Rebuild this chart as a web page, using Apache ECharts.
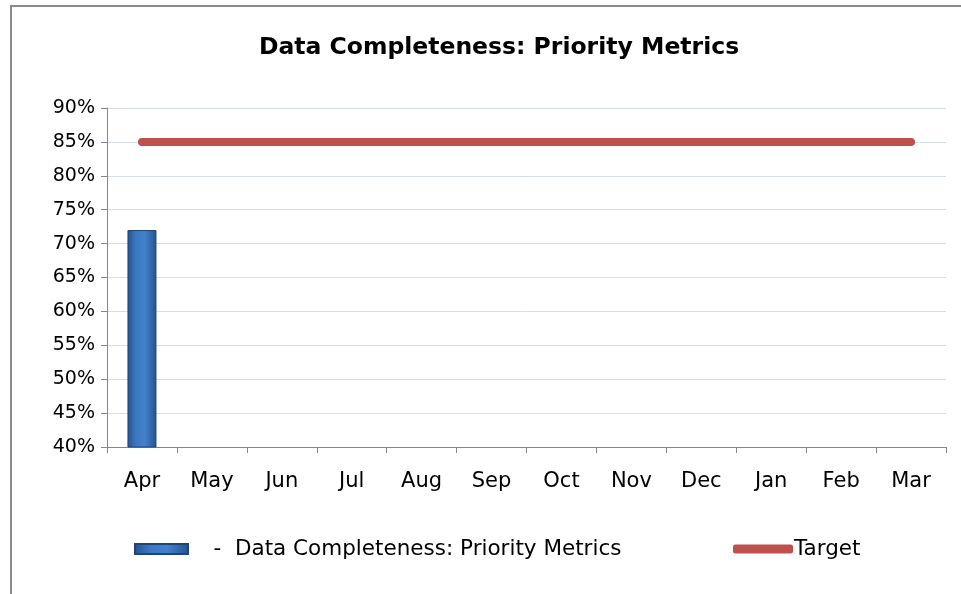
<!doctype html>
<html>
<head>
<meta charset="UTF-8">
<title>Data Completeness</title>
<script src="https://cdn.jsdelivr.net/npm/echarts@6/dist/echarts.min.js"></script>
<style>
  html, body { margin: 0; padding: 0; background: #fff; }
  #main { width: 961px; height: 594px; }
</style>
</head>
<body>
<div id="main"></div>
<script>
    var months = ['Apr', 'May', 'Jun', 'Jul', 'Aug', 'Sep', 'Oct', 'Nov', 'Dec', 'Jan', 'Feb', 'Mar'];
    var completeness = [72, null, null, null, null, null, null, null, null, null, null, null];
    var target = [85, 85, 85, 85, 85, 85, 85, 85, 85, 85, 85, 85];

    var font = 'DejaVu Sans';
    var myChart = echarts.init(document.getElementById('main'));
    var option = {
        animation: false,
        backgroundColor: '#fff',
        title: {
            text: 'Data Completeness: Priority Metrics',
            left: 494,
            top: 31,
            textAlign: 'center',
            textStyle: { fontFamily: font, fontSize: 23.5, fontWeight: 'bold', color: '#000' }
        },
        graphic: [{
            type: 'polyline',
            shape: { points: [[11, 594], [11, 6], [961, 6]] },
            style: { stroke: '#8a8a8a', lineWidth: 2, fill: null }
        }],
        legend: [{
            left: 134,
            top: 538,
            padding: 0,
            itemWidth: 53,
            itemHeight: 10,
            data: [{ name: 'Data Completeness: Priority Metrics', icon: 'rect' }],
            formatter: function (n) { return '   -  ' + n; },
            textStyle: { fontFamily: font, fontSize: 21.5, color: '#000' }
        }, {
            left: 733,
            top: 538,
            padding: 0,
            itemWidth: 60,
            itemHeight: 9,
            data: [{ name: 'Target', icon: 'roundRect' }],
            textStyle: { fontFamily: font, fontSize: 21.5, color: '#000', padding: [0, 0, 0, -4] }
        }],
        grid: { left: 107, right: 15, top: 108, bottom: 147 },
        xAxis: {
            type: 'category',
            data: months,
            boundaryGap: true,
            axisLine: { lineStyle: { color: '#868686', width: 1 } },
            axisTick: { show: true, length: 6, lineStyle: { color: '#868686' } },
            axisLabel: { fontFamily: font, fontSize: 21, color: '#000', margin: 24 }
        },
        yAxis: {
            type: 'value',
            min: 40,
            max: 90,
            interval: 5,
            axisLine: { show: true, lineStyle: { color: '#868686' } },
            axisTick: { show: true, length: 6, lineStyle: { color: '#868686' } },
            splitLine: { lineStyle: { color: '#d3dff0', width: 1 } },
            axisLabel: { fontFamily: font, fontSize: 19, color: '#000', margin: 12, formatter: '{value}%' }
        },
        series: [{
            name: 'Data Completeness: Priority Metrics',
            type: 'bar',
            barWidth: 29,
            data: completeness,
            itemStyle: {
                color: new echarts.graphic.LinearGradient(0, 0, 1, 0, [
                    { offset: 0, color: '#24528e' },
                    { offset: 0.3, color: '#3d78c2' },
                    { offset: 0.6, color: '#4282cc' },
                    { offset: 1, color: '#24528e' }
                ]),
                borderColor: '#1d4678',
                borderWidth: 1
            }
        }, {
            name: 'Target',
            type: 'line',
            data: target,
            symbol: 'none',
            itemStyle: { color: '#c0504d' },
            lineStyle: { color: '#c0504d', width: 8, cap: 'round' }
        }]
    };
    myChart.setOption(option);
</script>
</body>
</html>
